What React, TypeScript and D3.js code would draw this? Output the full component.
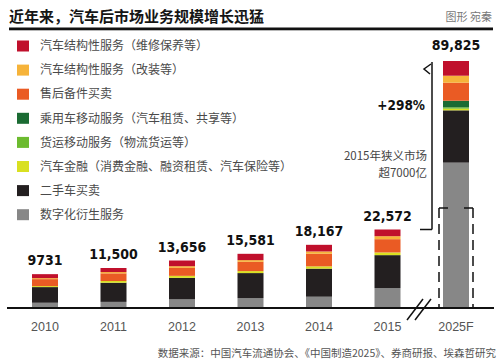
import * as d3 from 'd3';

const years = ['2010', '2011', '2012', '2013', '2014', '2015', '2025F'];
const totals = [9731, 11500, 13656, 15581, 18167, 22572, 89825];

const seriesNames = [
  '汽车结构性服务（维修保养等）',
  '汽车结构性服务（改装等）',
  '售后备件买卖',
  '乘用车移动服务（汽车租赁、共享等）',
  '货运移动服务（物流货运等）',
  '汽车金融（消费金融、融资租赁、汽车保险等）',
  '二手车买卖',
  '数字化衍生服务',
];

// values per year, one array per series (legend order)
const repair = [1140, 1160, 1630, 1810, 1910, 1920, 5350];
const modify = [290, 380, 490, 490, 660, 860, 2550];
const parts = [2000, 2200, 2290, 2670, 3620, 3820, 6550];
const passenger = [0, 0, 0, 0, 0, 0, 2400];
const freight = [0, 0, 0, 0, 0, 0, 490];
const finance = [290, 490, 570, 570, 660, 770, 600];
const usedCar = [4501, 5510, 6180, 7180, 8070, 9462, 19020];
const digital = [1510, 1760, 2496, 2861, 3247, 5740, 52865];

const seriesValues = [repair, modify, parts, passenger, freight, finance, usedCar, digital];
const colors = ['#c0102c', '#f6b33a', '#ea5b24', '#1b6b33', '#6cbb2f', '#d9e021', '#231f20', '#878787'];

const W = 499;
const H = 364;
const base = 308;

const cjk = '"Noto Sans CJK SC", "Noto Sans", sans-serif';
const narrow = '"Liberation Sans Narrow", "DejaVu Sans Condensed", "Roboto Condensed", "Liberation Sans", sans-serif';

export default function App() {
  const x = d3.scalePoint<string>().domain(years).range([45, 456]);
  const barW = 26;

  // history bars and the forecast bar are on different (broken) scales
  const yHist = d3.scaleLinear().domain([0, 22572]).range([base, 229.5]);
  const yFcst = d3.scaleLinear().domain([0, 89825]).range([base, 61]);
  const yFor = (yr: string) => (yr === '2025F' ? yFcst : yHist);

  // stack from bottom (digital) upward
  const rows = years.map((yr, i) => {
    const r: Record<string, number | string> = { year: yr };
    seriesNames.forEach((s, k) => (r[s] = seriesValues[k][i]));
    return r;
  });
  const stack = d3
    .stack<Record<string, number | string>>()
    .keys([...seriesNames].reverse())
    .value((d, key) => d[key] as number);
  const stacked = stack(rows);

  const legendY = (i: number) => 46 + i * 24.1;

  const fx = x('2025F') as number;
  const bracketX = 432;
  const topF = yFcst(totals[6]);
  const top15 = yHist(totals[5]);
  const boxTop = 208;

  return (
    <svg width={W} height={H} style={{ position: 'absolute', left: 0, top: 0, background: '#fff' }}>
      {/* title */}
      <text x={9} y={22} fontFamily={cjk} fontSize={15} fontWeight="bold" fill="#151515">
        近年来，汽车后市场业务规模增长迅猛
      </text>
      <text x={492} y={21} textAnchor="end" fontFamily={cjk} fontSize={11} fill="#777">
        图形 宛秦
      </text>
      <rect x={9} y={27.5} width={484} height={2.8} fill="#111" />

      {/* legend */}
      {seriesNames.map((s, i) => (
        <g key={s}>
          <rect x={17} y={legendY(i) - 5.5} width={12} height={11} fill={colors[i]} />
          <text x={40} y={legendY(i)} dy="0.35em" fontFamily={cjk} fontSize={12} fill="#4a4a4a">
            {s}
          </text>
        </g>
      ))}

      {/* bars */}
      {stacked.map((layer) => {
        const ci = seriesNames.indexOf(layer.key);
        return (
          <g key={layer.key} fill={colors[ci]}>
            {layer.map((d, i) => {
              const yr = years[i];
              const y = yFor(yr);
              const h = y(d[0]) - y(d[1]);
              if (h <= 0) return null;
              return <rect key={yr} x={(x(yr) as number) - barW / 2} y={y(d[1])} width={barW} height={h} />;
            })}
          </g>
        );
      })}

      {/* totals */}
      {years.map((yr, i) => (
        <text
          key={yr}
          x={x(yr)}
          y={yFor(yr)(totals[i]) - (yr === '2025F' ? 11 : 9)}
          textAnchor="middle"
          fontFamily={narrow}
          fontWeight="bold"
          fontSize={14}
          fill="#111"
        >
          {i === 0 ? String(totals[i]) : d3.format(',')(totals[i])}
        </text>
      ))}

      {/* dashed box: 2015 market */}
      <g stroke="#111" strokeWidth={1.5} fill="none">
        <line x1={fx - 17} y1={boxTop} x2={fx - 17} y2={base} strokeDasharray="10,6" />
        <line x1={fx + 17} y1={boxTop} x2={fx + 17} y2={base} strokeDasharray="10,6" />
        <line x1={fx - 17} y1={boxTop} x2={fx - 8} y2={boxTop} />
        <line x1={fx + 8} y1={boxTop} x2={fx + 17} y2={boxTop} />
      </g>

      {/* growth bracket */}
      <g stroke="#111" strokeWidth={1.5} fill="none">
        <line x1={bracketX} y1={topF + 1} x2={bracketX} y2={top15} />
        <line x1={bracketX - 12} y1={top15} x2={bracketX} y2={top15} />
        <polyline points={`${bracketX - 1},${topF + 3} ${bracketX - 8},${topF + 8} ${bracketX - 2},${topF + 13}`} />
      </g>
      <text x={425} y={110} textAnchor="end" fontFamily={narrow} fontWeight="bold" fontSize={13.5} fill="#111">
        +298%
      </text>
      <text x={427} y={160} textAnchor="end" fontFamily={cjk} fontSize={11.5} fill="#444">
        2015年狭义市场
      </text>
      <text x={427} y={177} textAnchor="end" fontFamily={cjk} fontSize={11.5} fill="#444">
        超7000亿
      </text>

      {/* axis */}
      <line x1={7} y1={base} x2={494} y2={base} stroke="#111" strokeWidth={2} />
      <g stroke="#111" strokeWidth={1.5}>
        <line x1={407} y1={320} x2={423} y2={299} />
        <line x1={415} y1={320} x2={431} y2={299} />
      </g>
      {years.map((yr) => (
        <text
          key={yr}
          x={x(yr)}
          y={331}
          textAnchor="middle"
          fontFamily={'"Liberation Sans", Arial, sans-serif'}
          fontSize={12.5}
          fill="#555"
        >
          {yr}
        </text>
      ))}

      {/* source */}
      <text x={496} y={357} textAnchor="end" fontFamily={cjk} fontSize={10.5} fill="#555">
        数据来源：中国汽车流通协会、《中国制造2025》、券商研报、埃森哲研究
      </text>
    </svg>
  );
}
